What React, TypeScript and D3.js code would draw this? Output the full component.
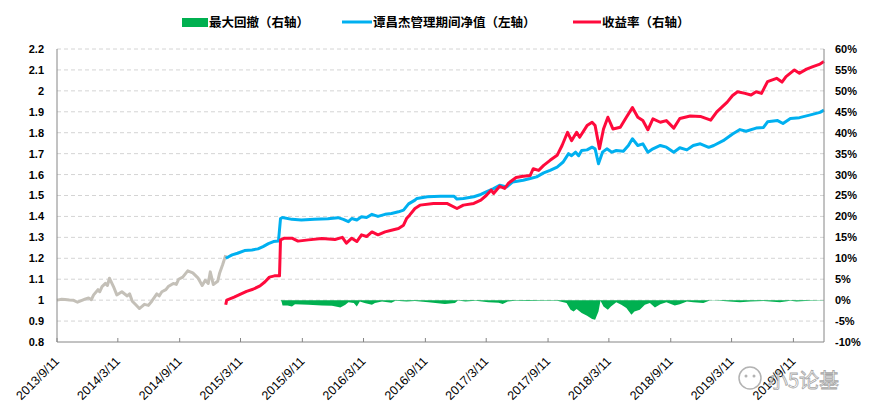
import * as d3 from "d3";

// 谭昌杰管理前（灰线，左轴）
const preNav: [string, number][] = [
  ["2013-09-11", 1.0], ["2013-09-25", 1.004], ["2013-10-05", 1.003], ["2013-10-18", 1.001],
  ["2013-10-29", 1.0], ["2013-11-11", 0.99], ["2013-11-26", 1.0], ["2013-12-05", 1.006],
  ["2013-12-14", 1.01], ["2013-12-22", 1.002], ["2013-12-29", 1.025], ["2014-01-11", 1.05],
  ["2014-01-16", 1.04], ["2014-01-23", 1.065], ["2014-02-02", 1.08], ["2014-02-08", 1.07],
  ["2014-02-14", 1.105], ["2014-02-26", 1.065], ["2014-03-08", 1.025], ["2014-03-23", 1.04],
  ["2014-04-08", 1.02], ["2014-04-15", 1.03], ["2014-04-23", 0.995], ["2014-05-02", 0.98],
  ["2014-05-14", 0.96], ["2014-05-22", 0.97], ["2014-05-29", 0.98], ["2014-06-10", 0.975],
  ["2014-06-20", 0.995], ["2014-07-05", 1.03], ["2014-07-12", 1.02], ["2014-07-20", 1.04],
  ["2014-08-01", 1.05], ["2014-08-08", 1.065], ["2014-08-23", 1.08], ["2014-09-01", 1.075],
  ["2014-09-08", 1.1], ["2014-09-20", 1.11], ["2014-10-05", 1.14], ["2014-10-20", 1.13],
  ["2014-11-05", 1.105], ["2014-11-17", 1.07], ["2014-11-26", 1.095], ["2014-12-05", 1.08],
  ["2014-12-11", 1.135], ["2014-12-20", 1.075], ["2015-01-02", 1.09], ["2015-01-08", 1.13],
  ["2015-01-17", 1.17], ["2015-01-26", 1.215],
];

// 谭昌杰管理期间净值（左轴）
const nav: [string, number][] = [
  ["2015-01-26", 1.2], ["2015-02-14", 1.216], ["2015-03-02", 1.224], ["2015-03-23", 1.237],
  ["2015-04-14", 1.24], ["2015-05-02", 1.245], ["2015-05-17", 1.256], ["2015-06-02", 1.27],
  ["2015-06-17", 1.28], ["2015-07-02", 1.283], ["2015-07-08", 1.39], ["2015-07-14", 1.395],
  ["2015-08-11", 1.386], ["2015-09-08", 1.383], ["2015-10-17", 1.387], ["2015-11-26", 1.389],
  ["2015-12-26", 1.394], ["2016-01-11", 1.386], ["2016-01-26", 1.375], ["2016-02-05", 1.39],
  ["2016-02-20", 1.383], ["2016-03-05", 1.398], ["2016-03-20", 1.395], ["2016-04-05", 1.41],
  ["2016-04-23", 1.4], ["2016-05-14", 1.41], ["2016-06-02", 1.414], ["2016-06-23", 1.422],
  ["2016-07-08", 1.43], ["2016-07-23", 1.46], ["2016-08-11", 1.478], ["2016-08-17", 1.486],
  ["2016-09-17", 1.494], ["2016-10-26", 1.497], ["2016-12-05", 1.497], ["2016-12-14", 1.483],
  ["2017-01-02", 1.486], ["2017-02-02", 1.494], ["2017-02-23", 1.505], ["2017-03-11", 1.517],
  ["2017-04-02", 1.533], ["2017-04-20", 1.549], ["2017-05-11", 1.541], ["2017-05-29", 1.565],
  ["2017-06-29", 1.573], ["2017-07-20", 1.581], ["2017-08-08", 1.589], ["2017-08-29", 1.608],
  ["2017-09-17", 1.62], ["2017-10-08", 1.636], ["2017-10-26", 1.66], ["2017-11-11", 1.7],
  ["2017-11-20", 1.69], ["2017-12-02", 1.707], ["2017-12-11", 1.69], ["2017-12-20", 1.715],
  ["2018-01-05", 1.718], ["2018-01-20", 1.731], ["2018-01-29", 1.723], ["2018-02-08", 1.652],
  ["2018-02-20", 1.707], ["2018-03-05", 1.723], ["2018-03-20", 1.707], ["2018-04-02", 1.715],
  ["2018-04-23", 1.712], ["2018-05-08", 1.739], ["2018-05-20", 1.771], ["2018-06-05", 1.739],
  ["2018-06-20", 1.747], ["2018-07-05", 1.707], ["2018-07-20", 1.723], ["2018-08-11", 1.739],
  ["2018-08-29", 1.731], ["2018-09-20", 1.707], ["2018-10-08", 1.728], ["2018-10-29", 1.718],
  ["2018-11-17", 1.739], ["2018-12-08", 1.747], ["2019-01-02", 1.73], ["2019-01-17", 1.739],
  ["2019-02-14", 1.762], ["2019-03-14", 1.794], ["2019-04-05", 1.815], ["2019-04-23", 1.807],
  ["2019-05-23", 1.822], ["2019-06-14", 1.825], ["2019-06-26", 1.852], ["2019-07-26", 1.858],
  ["2019-08-11", 1.844], ["2019-09-02", 1.868], ["2019-09-29", 1.872], ["2019-10-29", 1.884],
  ["2019-11-29", 1.897], ["2019-12-11", 1.908],
];

// 收益率（右轴，%）
const returns: [string, number][] = [
  ["2015-01-26", -1.1], ["2015-01-29", 0.0], ["2015-02-20", 0.7], ["2015-03-08", 1.3],
  ["2015-03-29", 2.1], ["2015-04-17", 2.6], ["2015-05-08", 3.4], ["2015-05-23", 4.4],
  ["2015-06-05", 5.5], ["2015-06-20", 5.8], ["2015-07-05", 5.8], ["2015-07-08", 14.4],
  ["2015-07-20", 14.8], ["2015-08-11", 14.8], ["2015-08-29", 14.1], ["2015-09-29", 14.4],
  ["2015-11-08", 14.7], ["2015-12-17", 14.5], ["2016-01-08", 15.0], ["2016-01-20", 13.6],
  ["2016-02-05", 14.8], ["2016-02-20", 14.0], ["2016-03-05", 15.6], ["2016-03-20", 15.2],
  ["2016-04-05", 16.3], ["2016-04-23", 15.6], ["2016-05-14", 16.3], ["2016-06-02", 16.7],
  ["2016-06-23", 17.1], ["2016-07-08", 17.9], ["2016-07-17", 19.5], ["2016-07-26", 20.3],
  ["2016-08-11", 21.9], ["2016-08-26", 22.7], ["2016-10-05", 23.1], ["2016-11-14", 23.1],
  ["2016-12-14", 21.9], ["2017-01-02", 22.7], ["2017-02-02", 23.1], ["2017-02-23", 23.9],
  ["2017-03-11", 25.0], ["2017-03-26", 26.3], ["2017-04-02", 25.5], ["2017-04-20", 27.2],
  ["2017-05-05", 26.7], ["2017-05-17", 28.0], ["2017-06-08", 29.3], ["2017-06-29", 29.6],
  ["2017-07-20", 29.8], ["2017-07-29", 31.4], ["2017-08-14", 31.0], ["2017-08-29", 32.2],
  ["2017-09-17", 33.4], ["2017-10-08", 34.6], ["2017-10-23", 37.0], ["2017-11-08", 40.1],
  ["2017-11-20", 38.1], ["2017-12-05", 40.1], ["2017-12-14", 38.9], ["2018-01-05", 41.7],
  ["2018-01-20", 42.5], ["2018-01-29", 41.7], ["2018-02-11", 36.2], ["2018-02-23", 40.9],
  ["2018-03-08", 43.7], ["2018-03-23", 40.9], ["2018-04-14", 41.3], ["2018-05-02", 43.7],
  ["2018-05-20", 46.0], ["2018-06-05", 43.7], ["2018-06-20", 42.9], ["2018-07-05", 40.7],
  ["2018-07-20", 43.3], ["2018-08-11", 42.5], ["2018-08-29", 42.9], ["2018-09-20", 41.1],
  ["2018-10-08", 43.4], ["2018-11-08", 44.0], ["2018-12-08", 43.9], ["2019-01-08", 43.0],
  ["2019-01-26", 45.0], ["2019-02-26", 47.3], ["2019-03-14", 48.9], ["2019-03-29", 49.8],
  ["2019-04-20", 49.4], ["2019-05-08", 49.0], ["2019-05-23", 49.8], ["2019-06-08", 49.4],
  ["2019-06-26", 52.2], ["2019-07-23", 53.0], ["2019-08-08", 52.1], ["2019-08-20", 53.4],
  ["2019-09-14", 55.0], ["2019-09-29", 54.2], ["2019-10-20", 55.2], ["2019-11-08", 55.8],
  ["2019-11-29", 56.4], ["2019-12-11", 57.0],
];

// 最大回撤（右轴，%）
const drawdown: [string, number][] = [
  ["2015-07-08", 0], ["2015-07-11", -0.3], ["2015-07-14", -1.3], ["2015-07-29", -1.3],
  ["2015-08-11", -1.5], ["2015-08-20", -1.0], ["2015-09-29", -1.1], ["2015-11-08", -1.3],
  ["2015-12-08", -1.35], ["2015-12-23", -1.6], ["2016-01-02", -1.75], ["2016-01-17", -1.1],
  ["2016-01-26", -0.5], ["2016-02-11", -0.7], ["2016-02-20", -1.5], ["2016-02-29", -0.3],
  ["2016-03-14", -0.7], ["2016-04-05", -1.1], ["2016-04-14", -0.7], ["2016-05-05", -0.3],
  ["2016-06-02", -0.6], ["2016-06-14", -0.15], ["2016-07-17", -0.3], ["2016-08-11", -0.2],
  ["2016-09-20", -0.5], ["2016-10-11", -0.7], ["2016-11-08", -0.9], ["2016-12-08", -0.7],
  ["2016-12-17", -0.1], ["2017-01-08", -0.3], ["2017-02-08", -0.15], ["2017-03-17", -0.5],
  ["2017-04-17", -0.6], ["2017-04-29", -0.9], ["2017-05-14", -0.3], ["2017-06-05", -0.15],
  ["2017-07-14", -0.2], ["2017-08-23", -0.15], ["2017-09-23", -0.15], ["2017-10-08", -0.15],
  ["2017-11-05", -0.7], ["2017-11-17", -2.3], ["2017-11-26", -2.7], ["2017-12-05", -2.1],
  ["2017-12-20", -3.1], ["2018-01-05", -3.7], ["2018-01-20", -4.5], ["2018-01-29", -4.7],
  ["2018-02-08", -2.7], ["2018-02-14", -0.15], ["2018-02-23", -1.5], ["2018-03-08", -2.3],
  ["2018-03-17", -1.5], ["2018-04-02", -0.5], ["2018-04-17", -1.1], ["2018-05-02", -1.9],
  ["2018-05-17", -3.5], ["2018-05-26", -2.7], ["2018-06-11", -2.3], ["2018-06-26", -1.1],
  ["2018-07-11", -0.7], ["2018-07-26", -1.75], ["2018-08-11", -1.0], ["2018-08-29", -0.5],
  ["2018-09-23", -1.3], ["2018-10-08", -1.0], ["2018-10-29", -0.3], ["2018-11-17", -0.5],
  ["2018-12-17", -0.7], ["2019-01-05", -0.1], ["2019-01-26", -0.1], ["2019-03-05", -0.3],
  ["2019-04-05", -0.5], ["2019-05-05", -0.3], ["2019-06-14", -0.2], ["2019-08-02", -0.5],
  ["2019-09-02", -0.15], ["2019-09-20", -0.3], ["2019-10-29", -0.15], ["2019-12-11", -0.1],
];

const xTickDates = [
  "2013-09-11", "2014-03-11", "2014-09-11", "2015-03-11", "2015-09-11", "2016-03-11", "2016-09-11",
  "2017-03-11", "2017-09-11", "2018-03-11", "2018-09-11", "2019-03-11", "2019-09-11",
];
const xTickLabels = [
  "2013/9/11", "2014/3/11", "2014/9/11", "2015/3/11", "2015/9/11", "2016/3/11", "2016/9/11",
  "2017/3/11", "2017/9/11", "2018/3/11", "2018/9/11", "2019/3/11", "2019/9/11",
];
const leftTicks = [0.8, 0.9, 1, 1.1, 1.2, 1.3, 1.4, 1.5, 1.6, 1.7, 1.8, 1.9, 2, 2.1, 2.2];
const rightTicks = [-10, -5, 0, 5, 10, 15, 20, 25, 30, 35, 40, 45, 50, 55, 60];

const W = 871;
const H = 413;
const margin = { top: 49, right: 47, bottom: 71, left: 57 };

const parse = d3.timeParse("%Y-%m-%d");
const numFont = "'Liberation Sans', Arial, sans-serif";
const cjkFont = "'Noto Sans CJK SC', sans-serif";

export default function App() {
  const x = d3
    .scaleTime()
    .domain([parse("2013-09-11")!, parse("2019-12-11")!])
    .range([margin.left, W - margin.right]);
  const yL = d3.scaleLinear().domain([0.8, 2.2]).range([H - margin.bottom, margin.top]);
  const yR = d3.scaleLinear().domain([-10, 60]).range([H - margin.bottom, margin.top]);

  const lineL = d3
    .line<[string, number]>()
    .x((d) => x(parse(d[0])!))
    .y((d) => yL(d[1]));
  const lineR = d3
    .line<[string, number]>()
    .x((d) => x(parse(d[0])!))
    .y((d) => yR(d[1]));
  const area = d3
    .area<[string, number]>()
    .x((d) => x(parse(d[0])!))
    .y0(yR(0))
    .y1((d) => yR(d[1]));

  const x0 = margin.left;
  const x1 = W - margin.right;
  const yBottom = H - margin.bottom;

  return (
    <svg
      width={W}
      height={H}
      style={{ position: "absolute", left: 0, top: 0, background: "#fff" }}
    >
      {/* gridlines */}
      {leftTicks.slice(1).map((t) => (
        <line
          key={t}
          x1={x0}
          x2={x1}
          y1={yL(t)}
          y2={yL(t)}
          stroke="#d4d4d4"
          strokeWidth={1}
          strokeDasharray="4,3"
        />
      ))}

      <path d={area(drawdown)!} fill="#00B050" />
      <path d={lineL(preNav)!} fill="none" stroke="#C4C0B8" strokeWidth={3} strokeLinejoin="round" />
      <path d={lineL(nav)!} fill="none" stroke="#00B0F0" strokeWidth={3} strokeLinejoin="round" />
      <path d={lineR(returns)!} fill="none" stroke="#FF0A3C" strokeWidth={3} strokeLinejoin="round" />

      {/* axes */}
      <line x1={x0} x2={x0} y1={margin.top} y2={yBottom} stroke="#868686" />
      <line x1={x1} x2={x1} y1={margin.top} y2={yBottom} stroke="#868686" />
      <line x1={x0} x2={x1} y1={yBottom} y2={yBottom} stroke="#868686" />
      {xTickDates.map((d, i) => {
        const px = x(parse(d)!);
        return (
          <g key={d}>
            <line x1={px} x2={px} y1={yBottom} y2={yBottom - 4} stroke="#868686" />
            <text
              transform={`translate(${px + 3},${yBottom + 20}) rotate(-45)`}
              textAnchor="end"
              fontFamily={numFont}
              fontSize={12.5}
              fill="#000"
            >
              {xTickLabels[i]}
            </text>
          </g>
        );
      })}
      {leftTicks.map((t) => (
        <text
          key={t}
          x={x0 - 13}
          y={yL(t)}
          dy="0.36em"
          textAnchor="end"
          fontFamily={numFont}
          fontWeight="bold"
          fontSize={11}
          fill="#000"
        >
          {d3.format("~g")(t)}
        </text>
      ))}
      {rightTicks.map((t) => (
        <text
          key={t}
          x={x1 + 11}
          y={yR(t)}
          dy="0.36em"
          textAnchor="start"
          fontFamily={numFont}
          fontWeight="bold"
          fontSize={11}
          fill="#000"
        >
          {t + "%"}
        </text>
      ))}

      {/* legend */}
      <g fontFamily={cjkFont} fontWeight="bold" fontSize={12.5} fill="#000">
        <rect x={182} y={18} width={26} height={9} fill="#00B050" />
        <text x={209} y={22} dy="0.36em">最大回撤（右轴）</text>
        <line x1={342} x2={372} y1={22} y2={22} stroke="#00B0F0" strokeWidth={3} />
        <text x={373} y={22} dy="0.36em">谭昌杰管理期间净值（左轴）</text>
        <line x1={573} x2={601} y1={22} y2={22} stroke="#FF0A3C" strokeWidth={3} />
        <text x={602} y={22} dy="0.36em">收益率（右轴）</text>
      </g>

      {/* watermark */}
      <g opacity={0.75}>
        <circle cx={750} cy={378} r={11} fill="none" stroke="#9a9a9a" strokeWidth={1.5} />
        <circle cx={746} cy={376} r={1.5} fill="#9a9a9a" />
        <circle cx={754} cy={376} r={1.5} fill="#9a9a9a" />
        <text
          x={768}
          y={388}
          fontFamily={cjkFont}
          fontSize={20}
          fill="#ffffff"
          stroke="#8a8a8a"
          strokeWidth={0.8}
        >
          小5论基
        </text>
      </g>
    </svg>
  );
}
